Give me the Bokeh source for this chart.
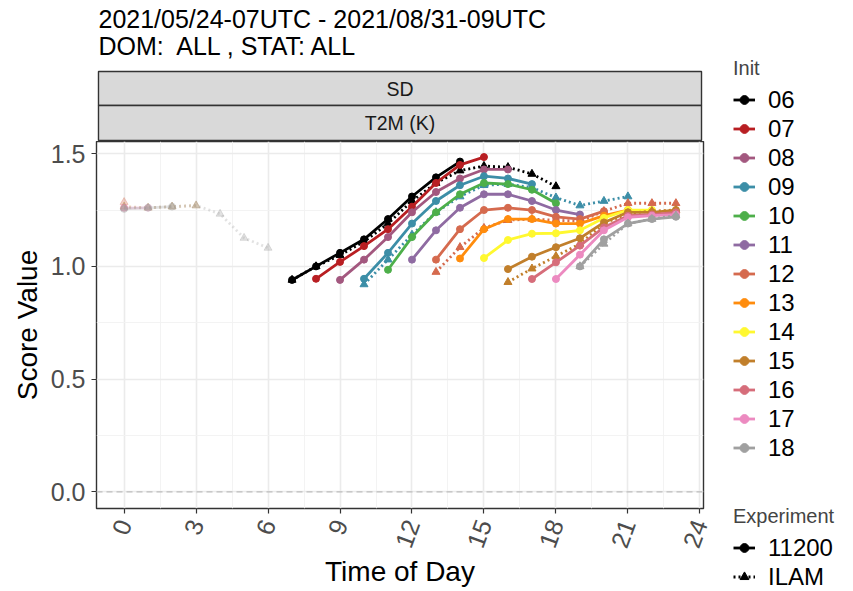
import math
from bokeh.plotting import figure
from bokeh.models import (Range1d, FixedTicker, PrintfTickFormatter, Span, Legend,
                          LegendItem, ColumnDataSource)
from bokeh.layouts import row, column
from bokeh.embed import file_html
from bokeh.resources import INLINE
from bokeh.core.properties import value

# ---------------- data ----------------
TITLE_1 = "2021/05/24-07UTC - 2021/08/31-09UTC"
TITLE_2 = "DOM:\u00a0 ALL , STAT: ALL"
STRIP_1 = "SD"
STRIP_2 = "T2M (K)"
X_TITLE = "Time of Day"
Y_TITLE = "Score Value"

inits = ["06", "07", "08", "09", "10", "11", "12", "13", "14", "15", "16", "17", "18"]
init_colors = ["#000000", "#B81E22", "#A3587F", "#3C8EA7", "#4DAF4A", "#8F6BA2", "#D56A4E",
               "#FF8C0D", "#FFF830", "#C17F2B", "#D66D7A", "#EC8AC0", "#A0A0A0"]
experiments = ["11200", "ILAM"]

lead_hours = [1, 2, 3, 4, 5, 6, 7, 8, 9, 10, 11, 12]

# experiment 11200 (solid), SD of T2M by lead hour 1..8
sd_11200_06 = [0.94, 1.00, 1.06, 1.12, 1.21, 1.31, 1.395, 1.465]
sd_11200_07 = [0.945, 1.02, 1.09, 1.165, 1.265, 1.37, 1.45, 1.485]
sd_11200_08 = [0.94, 1.03, 1.13, 1.24, 1.33, 1.39, 1.43, 1.43]
sd_11200_09 = [0.945, 1.06, 1.19, 1.29, 1.36, 1.40, 1.39, 1.365]
sd_11200_10 = [0.985, 1.13, 1.24, 1.32, 1.37, 1.365, 1.34, 1.28]
sd_11200_11 = [1.03, 1.16, 1.26, 1.32, 1.32, 1.29, 1.25, 1.23]
sd_11200_12 = [1.03, 1.165, 1.25, 1.26, 1.25, 1.22, 1.21, 1.245]
sd_11200_13 = [1.035, 1.165, 1.21, 1.21, 1.19, 1.19, 1.225, 1.25]
sd_11200_14 = [1.037, 1.117, 1.145, 1.147, 1.16, 1.215, 1.25, 1.25]
sd_11200_15 = [0.988, 1.043, 1.085, 1.125, 1.195, 1.24, 1.24, 1.25]
sd_11200_16 = [0.944, 1.018, 1.092, 1.173, 1.225, 1.23, 1.24, 1.26]
sd_11200_17 = [0.944, 1.052, 1.16, 1.218, 1.225, 1.23, 1.26, 1.26]
sd_11200_18 = [1.00, 1.12, 1.19, 1.21, 1.22, 1.255, 1.26, 1.265]

# experiment ILAM (dotted), SD of T2M by lead hour 1..12
sd_ilam_06 = [0.94, 1.00, 1.05, 1.11, 1.19, 1.29, 1.37, 1.425, 1.445, 1.44, 1.41, 1.355]
sd_ilam_09 = [0.92, 1.03, 1.14, 1.24, 1.31, 1.36, 1.365, 1.35, 1.305, 1.27, 1.29, 1.31]
sd_ilam_12 = [0.975, 1.085, 1.17, 1.205, 1.21, 1.205, 1.20, 1.245, 1.28, 1.28, 1.28, 1.285]
sd_ilam_15 = [0.93, 0.99, 1.045, 1.10, 1.19, 1.235, 1.245, 1.25, 1.265, 1.26, 1.265, 1.27]
sd_ilam_18 = [1.00, 1.10, 1.19, 1.21, 1.225, 1.26, 1.26, 1.265, 1.27, 1.233, 1.126, 1.082]

sd_11200 = {"06": sd_11200_06, "07": sd_11200_07, "08": sd_11200_08, "09": sd_11200_09,
            "10": sd_11200_10, "11": sd_11200_11, "12": sd_11200_12, "13": sd_11200_13,
            "14": sd_11200_14, "15": sd_11200_15, "16": sd_11200_16, "17": sd_11200_17,
            "18": sd_11200_18}
sd_ilam = {"06": sd_ilam_06, "09": sd_ilam_09, "12": sd_ilam_12, "15": sd_ilam_15,
           "18": sd_ilam_18}

x_ticks = [0, 3, 6, 9, 12, 15, 18, 21, 24]
x_minor = [1.5, 4.5, 7.5, 10.5, 13.5, 16.5, 19.5, 22.5]
y_ticks = [0.0, 0.5, 1.0, 1.5]
y_minor = [0.25, 0.75, 1.25]

# ---------------- style ----------------
FONT = "Liberation Sans"
LW = 2.8
DOT = "2 3"
FAINT = 0.3

# layout (pixels)
LEFT_W = 712
FRAME_L = 96
FRAME_W = 607
FRAME_R = LEFT_W - FRAME_L - FRAME_W
TOP_H = 141
FRAME_H = 367
MAIN_H = 450
LEG_W = 138
TOTAL_H = TOP_H + MAIN_H


def split_series(init, vals):
    h0 = int(init)
    mx, my, wx, wy = [], [], [], []
    for lead, v in zip(lead_hours, vals):
        t = h0 + lead
        if t < 24:
            mx.append(t); my.append(v)
        else:
            wx.append(t - 24); wy.append(v)
    return mx, my, wx, wy


# ---------------- top: titles + strips ----------------
pad = 2
x0 = -pad / FRAME_W
x1 = 1 + pad / FRAME_W
top = figure(width=LEFT_W, height=TOP_H, x_range=Range1d(x0, x1), y_range=Range1d(TOP_H, 0),
             min_border_left=FRAME_L - pad, min_border_right=FRAME_R - pad,
             min_border_top=0, min_border_bottom=0, x_axis_location=None, y_axis_location=None,
             toolbar_location=None, output_backend="svg", outline_line_color=None)
top.grid.visible = False
top.text(x=[0.0, 0.0], y=[18, 45], text=[TITLE_1, TITLE_2], text_font=value(FONT),
         text_font_size="25px", text_baseline="middle", text_align="left", text_color="#000000")
top.quad(left=[0, 0], right=[1, 1], top=[71, 105], bottom=[105, 140], fill_color="#D9D9D9",
         line_color="#333333", line_width=1.4)
top.text(x=[0.5, 0.5], y=[88, 122.5], text=[STRIP_1, STRIP_2], text_font=value(FONT),
         text_font_size="19.5px", text_baseline="middle", text_align="center",
         text_color="#1A1A1A")

# ---------------- main panel ----------------
p = figure(width=LEFT_W, height=MAIN_H, x_range=Range1d(-1.15, 24.15),
           y_range=Range1d(-0.074, 1.554), min_border_left=FRAME_L, min_border_right=FRAME_R,
           min_border_top=0, min_border_bottom=MAIN_H - FRAME_H,
           toolbar_location=None, output_backend="svg",
           outline_line_color="#333333", outline_line_width=1.4,
           background_fill_color="#FFFFFF")

p.xaxis.ticker = FixedTicker(ticks=x_ticks, minor_ticks=x_minor)
p.yaxis.ticker = FixedTicker(ticks=y_ticks, minor_ticks=y_minor)
p.yaxis.formatter = PrintfTickFormatter(format="%.1f")
for ax in (p.xaxis[0], p.yaxis[0]):
    ax.axis_line_color = None
    ax.major_tick_line_color = "#333333"
    ax.major_tick_line_width = 1.2
    ax.major_tick_out = 5
    ax.major_tick_in = 0
    ax.minor_tick_line_color = None
    ax.major_label_text_font = FONT
    ax.major_label_text_font_size = "25px"
    ax.major_label_text_color = "#4D4D4D"
    ax.axis_label_text_font = FONT
    ax.axis_label_text_font_size = "28px"
    ax.axis_label_text_font_style = "normal"
    ax.axis_label_text_color = "#000000"
p.xaxis.axis_label = X_TITLE
p.yaxis.axis_label = Y_TITLE
p.xaxis.major_label_orientation = 1.22
p.xaxis.major_label_standoff = 7
p.xaxis.axis_label_standoff = 0
p.yaxis.major_label_standoff = 6
p.yaxis.axis_label_standoff = 5

for g in (p.xgrid[0], p.ygrid[0]):
    g.grid_line_color = "#EBEBEB"
    g.grid_line_width = 1.6
    g.minor_grid_line_color = "#F2F2F2"
    g.minor_grid_line_width = 0.9

p.add_layout(Span(location=0, dimension="width", line_color="#BDBDBD", line_width=1.3,
                  line_dash="6 4"))

for init, col in zip(inits, init_colors):
    mx, my, wx, wy = split_series(init, sd_11200[init])
    p.line(mx, my, line_color=col, line_width=LW)
    p.scatter(mx, my, marker="circle", size=7, fill_color=col, line_color=col)
    if wx:
        p.line(wx, wy, line_color=col, line_width=LW, line_alpha=FAINT)
        p.scatter(wx, wy, marker="circle", size=7, fill_color=col, line_color=col,
                  alpha=FAINT)
    if init in sd_ilam:
        mx, my, wx, wy = split_series(init, sd_ilam[init])
        p.line(mx, my, line_color=col, line_width=LW, line_dash=DOT)
        p.scatter(mx, my, marker="triangle", size=8, fill_color=col, line_color=col)
        if wx:
            p.line(wx, wy, line_color=col, line_width=LW, line_dash=DOT, line_alpha=FAINT)
            p.scatter(wx, wy, marker="triangle", size=8, fill_color=col, line_color=col,
                      alpha=FAINT)

# ---------------- legend column ----------------
LEG_LEFT = 21
LEG_TOP = 57
lg = figure(width=LEG_W, height=TOTAL_H, x_range=Range1d(0, 1), y_range=Range1d(0, 1),
            min_border_left=LEG_LEFT, min_border_top=LEG_TOP, min_border_right=0,
            min_border_bottom=0, x_axis_location=None, y_axis_location=None,
            toolbar_location=None, output_backend="svg", outline_line_color=None)
lg.grid.visible = False

nan = float("nan")
init_items = []
for init, col in zip(inits, init_colors):
    src = ColumnDataSource(dict(x=[nan], y=[nan]))
    rl = lg.line("x", "y", source=src, line_color=col, line_width=LW)
    rp = lg.scatter("x", "y", source=src, marker="circle", size=7, fill_color=col, line_color=col)
    init_items.append(LegendItem(label=init, renderers=[rl, rp]))

src = ColumnDataSource(dict(x=[nan], y=[nan]))
e1l = lg.line("x", "y", source=src, line_color="#000000", line_width=LW)
e1p = lg.scatter("x", "y", source=src, marker="circle", size=7, color="#000000")
e2l = lg.line("x", "y", source=src, line_color="#000000", line_width=LW, line_dash=DOT)
e2p = lg.scatter("x", "y", source=src, marker="triangle", size=8, color="#000000")
exp_items = [LegendItem(label=experiments[0], renderers=[e1l, e1p]),
             LegendItem(label=experiments[1], renderers=[e2l, e2p])]

common = dict(orientation="vertical", margin=0, padding=0, spacing=0, glyph_width=22,
              glyph_height=29, label_height=29, label_standoff=13, label_text_font=FONT,
              label_text_font_size="24px", label_text_color="#000000", title_text_font=FONT,
              title_text_font_size="20px", title_text_font_style="normal", title_standoff=5,
              border_line_color=None, background_fill_alpha=0)
leg1 = Legend(items=init_items, title="Init", location="top_left", **common)
leg2 = Legend(items=exp_items, title="Experiment", location=(0, 0), **common)
lg.add_layout(leg1)
lg.add_layout(leg2)

layout = row(column(top, p), lg)
open("out.html", "w").write(file_html(layout, INLINE))
